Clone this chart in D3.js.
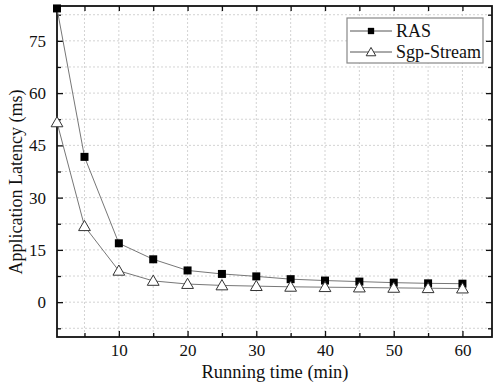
<!DOCTYPE html>
<html>
<head>
<meta charset="utf-8">
<script src="https://cdn.jsdelivr.net/npm/d3@7"></script>
<style>
  body { margin: 0; background: #fff; }
  svg { display: block; }
  text { font-family: "Liberation Serif", "Times New Roman", serif; fill: #111; }
</style>
</head>
<body>
<svg id="chart" width="493" height="386"></svg>
<script>
const times = [1, 5, 10, 15, 20, 25, 30, 35, 40, 45, 50, 55, 60];
const rasLatency = [84.3, 41.7, 16.9, 12.3, 9.1, 8.1, 7.4, 6.6, 6.2, 5.9, 5.6, 5.4, 5.3];
const sgpLatency = [51.6, 21.8, 9.0, 6.1, 5.2, 4.8, 4.6, 4.4, 4.3, 4.2, 4.1, 4.0, 3.9];
const xTicks = [10, 20, 30, 40, 50, 60];
const yTicks = [0, 15, 30, 45, 60, 75];
const seriesNames = ["RAS", "Sgp-Stream"];

const serif = '"Liberation Serif", "Times New Roman", serif';
const margin = { top: 6, right: 1, bottom: 49, left: 57 };
const width = 493 - margin.left - margin.right;
const height = 386 - margin.top - margin.bottom;

const svg = d3.select("#chart");
const g = svg.append("g").attr("transform", `translate(${margin.left},${margin.top})`);

const x = d3.scaleLinear().domain([1, 64.3]).range([0, width]);
const y = d3.scaleLinear().domain([-10, 85]).range([height, 0]);

const xMinor = d3.range(5, 64, 5);
const yMinor = d3.range(-7.5, 85, 7.5);

// grid
g.append("g").selectAll("line").data(xMinor).join("line")
  .attr("x1", d => x(d)).attr("x2", d => x(d))
  .attr("y1", 0).attr("y2", height)
  .attr("stroke", "#c8c8c8").attr("stroke-width", 0.8).attr("stroke-dasharray", "2,2");
g.append("g").selectAll("line").data(yMinor).join("line")
  .attr("x1", 0).attr("x2", width)
  .attr("y1", d => y(d)).attr("y2", d => y(d))
  .attr("stroke", "#c8c8c8").attr("stroke-width", 0.8).attr("stroke-dasharray", "2,2");

// axes, ticks inward
function styleAxis(sel) {
  sel.attr("font-family", serif);
  sel.select(".domain").remove();
  sel.selectAll("line").attr("stroke", "#111").attr("stroke-width", 1.3);
  sel.selectAll("text").style("font-family", serif).style("font-size", "17px").attr("fill", "#111");
}
g.append("g").attr("transform", `translate(0,${height})`)
  .call(d3.axisBottom(x).tickValues(xTicks).tickSize(-6).tickPadding(7).tickFormat(d3.format("d")))
  .call(styleAxis);
g.append("g").attr("transform", `translate(0,${height})`)
  .call(d3.axisBottom(x).tickValues(xMinor.filter(d => !xTicks.includes(d))).tickSize(-4).tickFormat(""))
  .call(styleAxis);
g.append("g")
  .call(d3.axisTop(x).tickValues(xMinor).tickSize(-5).tickFormat(""))
  .call(styleAxis);

g.append("g")
  .call(d3.axisLeft(y).tickValues(yTicks).tickSize(-6).tickPadding(11).tickFormat(d3.format("d")))
  .call(styleAxis);
g.append("g").call(d3.axisLeft(y).tickValues(yMinor.filter(d => !yTicks.includes(d))).tickSize(-4).tickFormat(""))
  .call(styleAxis);
g.append("g").attr("transform", `translate(${width},0)`)
  .call(d3.axisRight(y).tickValues(yTicks).tickSize(-6).tickFormat(""))
  .call(styleAxis);
g.append("g").attr("transform", `translate(${width},0)`)
  .call(d3.axisRight(y).tickValues(yMinor.filter(d => !yTicks.includes(d))).tickSize(-4).tickFormat(""))
  .call(styleAxis);

// frame
g.append("rect").attr("x", 0).attr("y", 0).attr("width", width).attr("height", height)
  .attr("fill", "none").attr("stroke", "#111").attr("stroke-width", 1.8);

// lines
const line = d3.line().x((d, i) => x(times[i])).y(d => y(d));
g.append("path").datum(rasLatency).attr("d", line)
  .attr("fill", "none").attr("stroke", "#777").attr("stroke-width", 1);
g.append("path").datum(sgpLatency).attr("d", line)
  .attr("fill", "none").attr("stroke", "#777").attr("stroke-width", 1);

const square = d3.symbol().type(d3.symbolSquare).size(64);
const tri = d3.symbol().type(d3.symbolTriangle).size(60);

g.append("g").selectAll("path").data(rasLatency).join("path")
  .attr("d", square)
  .attr("transform", (d, i) => `translate(${x(times[i])},${y(d)})`)
  .attr("fill", "#000");
g.append("g").selectAll("path").data(sgpLatency).join("path")
  .attr("d", tri)
  .attr("transform", (d, i) => `translate(${x(times[i])},${y(d) + 1})`)
  .attr("fill", "#fff").attr("stroke", "#333").attr("stroke-width", 1);

// legend
const lg = svg.append("g").attr("transform", "translate(347,18)");
lg.append("rect").attr("width", 136).attr("height", 45)
  .attr("fill", "#fff").attr("stroke", "#888").attr("stroke-width", 1.2);
seriesNames.forEach((name, i) => {
  const cy = 13 + i * 21;
  lg.append("line").attr("x1", 3).attr("x2", 45).attr("y1", cy).attr("y2", cy)
    .attr("stroke", "#555").attr("stroke-width", 1);
  if (i === 0) {
    lg.append("path").attr("d", d3.symbol().type(d3.symbolSquare).size(40))
      .attr("transform", `translate(24,${cy})`).attr("fill", "#000");
  } else {
    lg.append("path").attr("d", d3.symbol().type(d3.symbolTriangle).size(40))
      .attr("transform", `translate(24,${cy + 1})`).attr("fill", "#fff").attr("stroke", "#333");
  }
  lg.append("text").attr("x", 49).attr("y", cy + 6).style("font-size", "18px").text(name);
});

// axis titles
svg.append("text").attr("x", 275).attr("y", 378)
  .attr("text-anchor", "middle").style("font-size", "18.5px").text("Running time (min)");
svg.append("text").attr("transform", "translate(22,182) rotate(-90)")
  .attr("text-anchor", "middle").style("font-size", "18px").text("Application Latency (ms)");
</script>
</body>
</html>
